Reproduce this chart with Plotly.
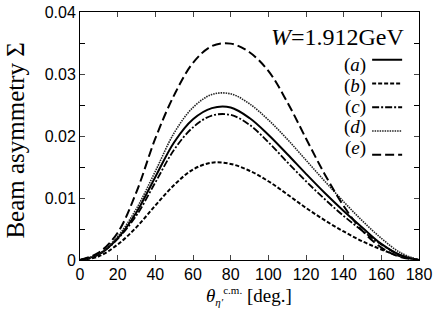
import plotly.graph_objects as go

theta = [0, 10, 20, 30, 40, 50, 60, 70, 80, 90, 100, 110, 120, 130, 140, 150, 160, 170, 180]

sigma_a = [0, 0.0009, 0.0035, 0.0077, 0.0134, 0.0190, 0.0227, 0.0245, 0.0246, 0.0229, 0.0202, 0.0171, 0.0139, 0.0108, 0.0079, 0.0052, 0.0026, 0.0008, 0]
sigma_b = [0, 0.0006, 0.0025, 0.0053, 0.0088, 0.0121, 0.0146, 0.0157, 0.0155, 0.0144, 0.0127, 0.0106, 0.0084, 0.0064, 0.0046, 0.0030, 0.0017, 0.0006, 0]
sigma_c = [0, 0.0009, 0.0034, 0.0072, 0.0125, 0.0178, 0.0214, 0.0233, 0.0234, 0.0218, 0.0190, 0.0158, 0.0127, 0.0098, 0.0071, 0.0047, 0.0025, 0.0008, 0]
sigma_d = [0, 0.0010, 0.0038, 0.0083, 0.0143, 0.0205, 0.0246, 0.0267, 0.0268, 0.0252, 0.0226, 0.0195, 0.0161, 0.0127, 0.0094, 0.0063, 0.0035, 0.0012, 0]
sigma_e = [0, 0.0012, 0.0044, 0.0110, 0.0196, 0.0266, 0.0318, 0.0345, 0.0349, 0.0335, 0.0305, 0.0255, 0.0196, 0.0138, 0.0087, 0.0047, 0.0020, 0.0005, 0]

labels = ["(<i>a</i>)", "(<i>b</i>)", "(<i>c</i>)", "(<i>d</i>)", "(<i>e</i>)"]
series = [sigma_a, sigma_b, sigma_c, sigma_d, sigma_e]
dashes = ["solid", "4px,2px", "7px,2px,2px,2px", "1.5px,1px", "9px,4px"]
widths = [2, 2, 1.8, 1.6, 2]
colors = ["black", "black", "black", "#222222", "black"]

ytickvals = [0, 0.01, 0.02, 0.03, 0.04]
yticktext = ["0", "0.01", "0.02", "0.03", "0.04"]
xtickvals = [0, 20, 40, 60, 80, 100, 120, 140, 160, 180]

fig = go.Figure()
for lab, ys, d, w, c in zip(labels, series, dashes, widths, colors):
    fig.add_trace(go.Scatter(x=theta, y=ys, mode="lines", name=" ",
                             line=dict(color=c, width=w, dash=d, shape="spline", smoothing=1.0)))

serif = "Liberation Serif"
sans = "Liberation Sans"

fig.update_layout(
    width=437, height=314,
    margin=dict(l=80, r=18, t=12, b=54),
    paper_bgcolor="white", plot_bgcolor="white",
    showlegend=True,
    legend=dict(x=0.847, y=0.876, xanchor="left", yanchor="top",
                bgcolor="rgba(0,0,0,0)", font=dict(family=serif, size=16),
                itemwidth=30, tracegroupgap=0),
    xaxis=dict(range=[0, 180], tickvals=xtickvals, ticks="inside", ticklen=5,
               showline=True, linecolor="black", linewidth=1, mirror="ticks",
               showgrid=False, zeroline=False, automargin=False,
               tickfont=dict(family=sans, size=16, color="black")),
    yaxis=dict(range=[0, 0.04], tickvals=ytickvals, ticktext=yticktext, ticks="inside", ticklen=5,
               minor=dict(dtick=0.005, ticks="inside", ticklen=5, tickcolor="black"),
               showline=True, linecolor="black", linewidth=1, mirror="ticks",
               showgrid=False, zeroline=False, automargin=False,
               tickfont=dict(family=sans, size=16, color="black")),
    annotations=[
        dict(text="<i>W</i>=1.912GeV", x=0.965, y=0.899, xref="paper", yref="paper",
             xanchor="right", yanchor="middle", showarrow=False,
             font=dict(family=serif, size=24, color="black")),
        dict(text="Beam asymmetry Σ", x=-0.19, y=0.48, xref="paper", yref="paper",
             xanchor="center", yanchor="middle", textangle=-90, showarrow=False,
             font=dict(family=serif, size=25, color="black")),
        dict(text="<i>θ</i><sub><span style='font-size:11px'><i>η′</i></span></sub>"
                  "<sup><span style='font-size:11px'>c.m.</span></sup> [deg.]",
             x=0.498, y=-0.145,
             xref="paper", yref="paper", xanchor="center", yanchor="middle", showarrow=False,
             font=dict(family=serif, size=19, color="black")),
    ] + [
        dict(text=lab, x=0.85, y=0.786 - i * 0.0839, xref="paper", yref="paper",
             xanchor="right", yanchor="middle", showarrow=False,
             font=dict(family=serif, size=19, color="black"))
        for i, lab in enumerate(labels)
    ],
)

fig.write_html("out.html", config={"displayModeBar": False},
               post_script="document.body.style.margin='0';document.body.style.overflow='hidden';")
